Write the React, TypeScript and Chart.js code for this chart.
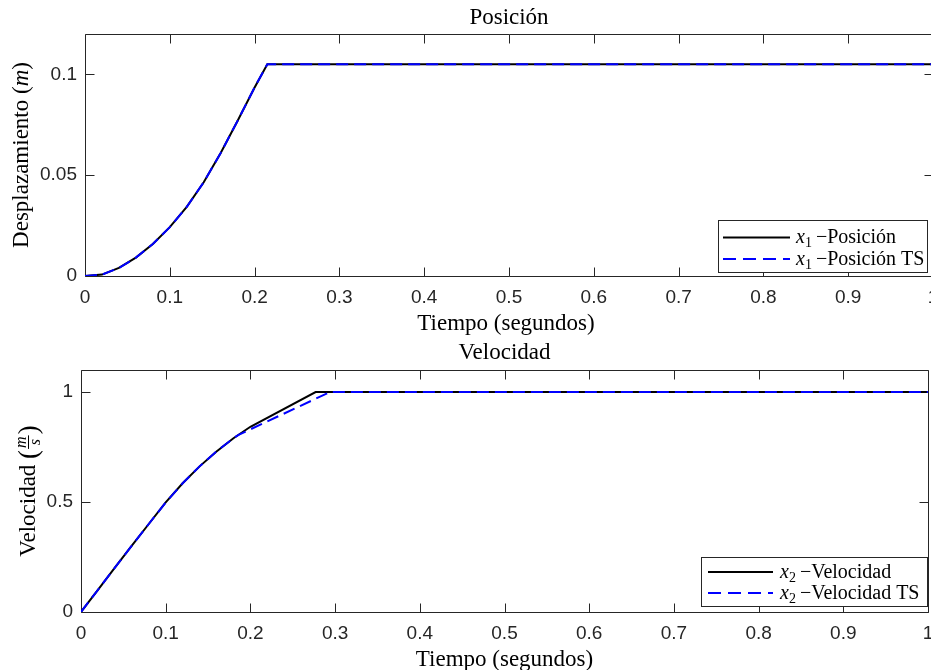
import React, { useEffect, useRef } from "react";
import { Chart, registerables } from "chart.js";

Chart.register(...registerables);

// ---------- data ----------
const posTime = [0, 0.02, 0.04, 0.06, 0.08, 0.1, 0.12, 0.14, 0.16, 0.18, 0.2, 0.215, 1.0];
const posSim = [0, 0.0007, 0.004, 0.0091, 0.0159, 0.0242, 0.0343, 0.0465, 0.061, 0.077, 0.0935, 0.105, 0.105];
const posTsTime = [0, 0.02, 0.04, 0.06, 0.08, 0.1, 0.12, 0.14, 0.16, 0.18, 0.2, 0.215, 1.0];
const posTs = [0, 0.0007, 0.004, 0.0091, 0.0159, 0.0242, 0.0343, 0.0465, 0.061, 0.077, 0.0935, 0.105, 0.105];

const velTime = [0, 0.02, 0.04, 0.06, 0.08, 0.1, 0.12, 0.14, 0.16, 0.18, 0.2, 0.277, 1.0];
const velSim = [0, 0.101, 0.202, 0.302, 0.4, 0.498, 0.585, 0.662, 0.73, 0.79, 0.842, 1.0, 1.0];
const velTsTime = [0, 0.02, 0.04, 0.06, 0.08, 0.1, 0.12, 0.14, 0.16, 0.18, 0.186, 0.294, 1.0];
const velTs = [0, 0.101, 0.202, 0.302, 0.4, 0.498, 0.585, 0.662, 0.73, 0.79, 0.805, 1.0, 1.0];

const timeMin = 0;
const timeMax = 1;
const timeStep = 0.1;
const posMax = 0.12;
const posStep = 0.05;
const velMax = 1.1;
const velStep = 0.5;

// ---------- styles ----------
const SERIF = "'Liberation Serif', 'Times New Roman', serif";
const SANS = "'Liberation Sans', Arial, Helvetica, sans-serif";
const AXIS = "#262626";
const BLUE = "#0000ff";
const DASH = [12, 6];

type Run = { text?: string; font?: string; dy?: number; frac?: [string, string] };

function fmt(v: number | string) {
  return String(parseFloat(Number(v).toFixed(4)));
}

function runWidth(ctx: CanvasRenderingContext2D, r: Run) {
  if (r.frac) {
    ctx.font = `italic 16px ${SERIF}`;
    const a = ctx.measureText(r.frac[0]).width;
    const b = ctx.measureText(r.frac[1]).width;
    return Math.max(a, b) + 4;
  }
  ctx.font = r.font || `23px ${SERIF}`;
  return ctx.measureText(r.text || "").width;
}

function drawRuns(ctx: CanvasRenderingContext2D, runs: Run[], x: number, y: number, align: "left" | "center") {
  let total = 0;
  for (const r of runs) total += runWidth(ctx, r);
  let cx = align === "center" ? x - total / 2 : x;
  ctx.textAlign = "left";
  ctx.textBaseline = "alphabetic";
  ctx.fillStyle = "#000";
  for (const r of runs) {
    const w = runWidth(ctx, r);
    if (r.frac) {
      ctx.font = `italic 16px ${SERIF}`;
      ctx.textAlign = "center";
      ctx.fillText(r.frac[0], cx + w / 2, y - 9.5);
      ctx.fillText(r.frac[1], cx + w / 2, y + 5);
      ctx.textAlign = "left";
      ctx.strokeStyle = "#000";
      ctx.lineWidth = 1;
      ctx.setLineDash([]);
      ctx.beginPath();
      ctx.moveTo(cx + 1, y - 6.5);
      ctx.lineTo(cx + w - 1, y - 6.5);
      ctx.stroke();
    } else {
      ctx.font = r.font || `23px ${SERIF}`;
      ctx.fillText(r.text || "", cx, y + (r.dy || 0));
    }
    cx += w;
  }
}

type LegendRow = { color: string; dash: number[]; runs: Run[]; y: number };
type LegendSpec = { x: number; y: number; w: number; h: number; lineX0: number; lineX1: number; textX: number; rows: LegendRow[] };

type Deco = {
  title: string;
  titleY: number;
  xLabelX: number | null;
  xLabelY: number;
  yLabelX: number;
  yLabel: Run[];
  legend: LegendSpec;
  tickLen: number;
};

function decoPlugin(d: Deco) {
  return {
    id: "deco",
    beforeDatasetsDraw(chart: any) {
      const ctx: CanvasRenderingContext2D = chart.ctx;
      const { left, right, top, bottom } = chart.chartArea;
      ctx.save();
      ctx.strokeStyle = AXIS;
      ctx.lineWidth = 1;
      ctx.setLineDash([]);
      const L = Math.round(left) + 0.5;
      const R = Math.round(right) + 0.5;
      const T = Math.round(top) + 0.5;
      const B = Math.round(bottom) + 0.5;
      ctx.beginPath();
      ctx.rect(L, T, R - L, B - T);
      const xs = chart.scales.x;
      for (const t of xs.ticks) {
        const px = Math.round(xs.getPixelForValue(t.value)) + 0.5;
        ctx.moveTo(px, B);
        ctx.lineTo(px, B - d.tickLen);
        ctx.moveTo(px, T);
        ctx.lineTo(px, T + d.tickLen);
      }
      const ys = chart.scales.y;
      for (const t of ys.ticks) {
        const py = Math.round(ys.getPixelForValue(t.value)) + 0.5;
        ctx.moveTo(L, py);
        ctx.lineTo(L + d.tickLen, py);
        ctx.moveTo(R, py);
        ctx.lineTo(R - d.tickLen, py);
      }
      ctx.stroke();
      ctx.restore();
    },
    afterDraw(chart: any) {
      const ctx: CanvasRenderingContext2D = chart.ctx;
      const { left, right, top, bottom } = chart.chartArea;
      ctx.save();
      // title
      drawRuns(ctx, [{ text: d.title }], (left + right) / 2, d.titleY, "center");
      // x label
      const xlx = d.xLabelX !== null ? d.xLabelX : (left + right) / 2;
      drawRuns(ctx, [{ text: "Tiempo (segundos)" }], xlx, d.xLabelY, "center");
      // y label (rotated)
      ctx.save();
      ctx.translate(d.yLabelX, (top + bottom) / 2);
      ctx.rotate(-Math.PI / 2);
      drawRuns(ctx, d.yLabel, 0, 0, "center");
      ctx.restore();
      // legend
      const lg = d.legend;
      ctx.fillStyle = "#ffffff";
      ctx.fillRect(lg.x, lg.y, lg.w, lg.h);
      ctx.strokeStyle = AXIS;
      ctx.lineWidth = 1;
      ctx.setLineDash([]);
      ctx.strokeRect(lg.x + 0.5, lg.y + 0.5, lg.w, lg.h);
      for (const row of lg.rows) {
        ctx.strokeStyle = row.color;
        ctx.lineWidth = 2;
        ctx.setLineDash(row.dash);
        ctx.beginPath();
        ctx.moveTo(lg.lineX0, row.y);
        ctx.lineTo(lg.lineX1, row.y);
        ctx.stroke();
        ctx.setLineDash([]);
        drawRuns(ctx, row.runs, lg.textX, row.y + 5.5, "left");
      }
      ctx.restore();
    },
  };
}

function pts(xs: number[], ys: number[]) {
  return xs.map((x, i) => ({ x, y: ys[i] }));
}

function legendRuns(sub: string, name: string): Run[] {
  return [
    { text: "x", font: `italic 20px ${SERIF}` },
    { text: sub, font: `14px ${SERIF}`, dy: 4 },
    { text: "\u2009\u2212" + name, font: `20px ${SERIF}` },
  ];
}

function makeConfig(opts: {
  tSim: number[]; ySim: number[]; tTs: number[]; yTs: number[];
  yMax: number; yStep: number; padTop: number; padRight: number; yWidth: number; xHeight: number; deco: Deco;
}) {
  const tickFont = { family: SANS, size: 19 };
  return {
    type: "line" as const,
    data: {
      datasets: [
        { label: "TS", data: pts(opts.tTs, opts.yTs), borderColor: BLUE, borderDash: DASH, borderWidth: 2, pointRadius: 0, tension: 0, fill: false, order: 0 },
        { label: "sim", data: pts(opts.tSim, opts.ySim), borderColor: "#000000", borderWidth: 2, pointRadius: 0, tension: 0, fill: false, order: 1 },
      ],
    },
    options: {
      animation: false as const,
      responsive: false,
      devicePixelRatio: 1,
      events: [] as any[],
      layout: { padding: { top: opts.padTop, right: opts.padRight, left: 0, bottom: 0 } },
      plugins: { legend: { display: false }, title: { display: false }, tooltip: { enabled: false } },
      scales: {
        x: {
          type: "linear" as const,
          position: "bottom" as const,
          min: timeMin,
          max: timeMax,
          grid: { display: false, drawTicks: false },
          border: { display: false },
          ticks: { stepSize: timeStep, padding: 10, color: AXIS, font: tickFont, maxRotation: 0, autoSkip: false, includeBounds: false, callback: (v: any) => fmt(v) },
          afterFit: (s: any) => { s.height = opts.xHeight; },
        },
        y: {
          type: "linear" as const,
          position: "left" as const,
          min: 0,
          max: opts.yMax,
          grid: { display: false, drawTicks: false },
          border: { display: false },
          ticks: { stepSize: opts.yStep, padding: 8, color: AXIS, font: tickFont, autoSkip: false, includeBounds: false, callback: (v: any) => fmt(v) },
          afterFit: (s: any) => { s.width = opts.yWidth; },
        },
      },
    },
    plugins: [decoPlugin(opts.deco)],
  };
}

const W = 950;
const H1 = 338;
const H2 = 332;

export default function App() {
  const ref1 = useRef<HTMLCanvasElement>(null);
  const ref2 = useRef<HTMLCanvasElement>(null);

  useEffect(() => {
    const c1 = new Chart(ref1.current as HTMLCanvasElement, makeConfig({
      tSim: posTime, ySim: posSim, tTs: posTsTime, yTs: posTs,
      yMax: posMax, yStep: posStep, padTop: 34, padRight: W - 933, yWidth: 85, xHeight: H1 - 276,
      deco: {
        title: "Posición", titleY: 24, xLabelX: 506, xLabelY: 330, yLabelX: 28, tickLen: 9,
        yLabel: [{ text: "Desplazamiento (" }, { text: "m", font: `italic 23px ${SERIF}` }, { text: ")" }],
        legend: {
          x: 718, y: 220, w: 209, h: 52, lineX0: 723, lineX1: 790, textX: 796,
          rows: [
            { color: "#000000", dash: [], runs: legendRuns("1", "Posición"), y: 237.5 },
            { color: BLUE, dash: [13, 7], runs: legendRuns("1", "Posición TS"), y: 259 },
          ],
        },
      },
    }) as any);
    const c2 = new Chart(ref2.current as HTMLCanvasElement, makeConfig({
      tSim: velTime, ySim: velSim, tTs: velTsTime, yTs: velTs,
      yMax: velMax, yStep: velStep, padTop: 370 - H1, padRight: W - 928, yWidth: 81, xHeight: H2 - (612 - H1),
      deco: {
        title: "Velocidad", titleY: 20.5, xLabelX: null, xLabelY: 666 - H1, yLabelX: 35, tickLen: 9,
        yLabel: [{ text: "Velocidad " }, { text: "(", font: `27px ${SERIF}`, dy: 2 }, { frac: ["m", "s"] }, { text: ")", font: `27px ${SERIF}`, dy: 2 }],
        legend: {
          x: 701, y: 557 - H1, w: 226, h: 49, lineX0: 708, lineX1: 773, textX: 780,
          rows: [
            { color: "#000000", dash: [], runs: legendRuns("2", "Velocidad"), y: 572 - H1 },
            { color: BLUE, dash: [13, 7], runs: legendRuns("2", "Velocidad TS"), y: 593 - H1 },
          ],
        },
      },
    }) as any);
    return () => {
      c1.destroy();
      c2.destroy();
    };
  }, []);

  return (
    <div style={{ position: "fixed", left: 0, top: 0, width: 931, height: 670, overflow: "hidden", background: "#ffffff" }}>
      <canvas ref={ref1} width={W} height={H1} style={{ position: "absolute", left: 0, top: 0, width: W, height: H1 }} />
      <canvas ref={ref2} width={W} height={H2} style={{ position: "absolute", left: 0, top: H1, width: W, height: H2 }} />
    </div>
  );
}
